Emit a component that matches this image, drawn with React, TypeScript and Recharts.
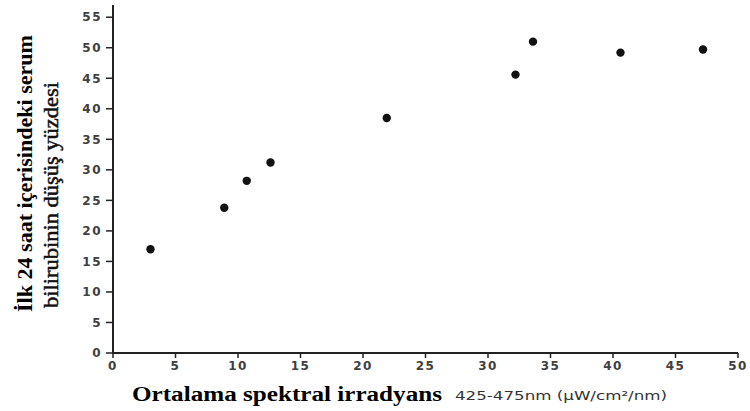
import { ScatterChart, Scatter, XAxis, YAxis } from "recharts";

// mean spectral irradiance (x) vs. % drop in serum bilirubin within 24h (y)
const irradiance = [3.0, 8.9, 10.7, 12.6, 21.9, 32.2, 33.6, 40.6, 47.2];
const bilirubinDrop = [17.0, 23.8, 28.2, 31.2, 38.5, 45.6, 51.0, 49.2, 49.7];

const xTicks = [0, 5, 10, 15, 20, 25, 30, 35, 40, 45, 50];
const yTicks = [0, 5, 10, 15, 20, 25, 30, 35, 40, 45, 50, 55];

const xTitle = "Ortalama spektral irradyans";
const xUnit = "425-475nm (µW/cm²/nm)";
const yTitle1 = "İlk 24 saat içerisindeki serum";
const yTitle2 = "bilirubinin düşüş yüzdesi";

const points = irradiance.map((x, i) => ({ x, y: bilirubinDrop[i] }));

const tickStyle = {
  fontFamily: "DejaVu Sans",
  fontSize: 12,
  fontWeight: "bold",
  fill: "#404040",
  letterSpacing: 1.5,
};

function XTitle(props: any) {
  const vb = props.viewBox || { x: 113, y: 353 };
  const base = vb.y + 48;
  return (
    <g>
      <text
        x={vb.x + 19}
        y={base}
        fontFamily="Liberation Serif"
        fontWeight="bold"
        fontSize={20}
        fill="#000"
        textLength={310}
        lengthAdjust="spacingAndGlyphs"
      >
        {xTitle}
      </text>
      <text
        x={vb.x + 342}
        y={base - 1}
        fontFamily="DejaVu Sans"
        fontSize={12}
        fill="#333"
        textLength={212}
        lengthAdjust="spacingAndGlyphs"
      >
        {xUnit}
      </text>
    </g>
  );
}

function YTitle(props: any) {
  const vb = props.viewBox || { x: 0, y: 5, height: 348 };
  const bottom = vb.y + vb.height;
  const x1 = vb.x + 32;
  const y1 = bottom - 41;
  const x2 = vb.x + 58;
  const y2 = bottom - 45;
  return (
    <g>
      <text
        x={x1}
        y={y1}
        transform={`rotate(-90 ${x1} ${y1})`}
        fontFamily="Liberation Serif"
        fontWeight="bold"
        fontSize={22}
        fill="#000"
        textLength={277}
        lengthAdjust="spacingAndGlyphs"
      >
        {yTitle1}
      </text>
      <text
        x={x2}
        y={y2}
        transform={`rotate(-90 ${x2} ${y2})`}
        fontFamily="Liberation Serif"
        fontSize={22}
        fill="#111"
        stroke="#111"
        strokeWidth={0.5}
        textLength={226}
        lengthAdjust="spacingAndGlyphs"
      >
        {yTitle2}
      </text>
    </g>
  );
}

function Dot(props: any) {
  return <circle cx={props.cx} cy={props.cy} r={4.2} fill="#111" />;
}

export default function App() {
  return (
    <div style={{ width: 750, height: 411, background: "#fff" }}>
      <style>{"body{margin:0}"}</style>
      <ScatterChart
        width={750}
        height={411}
        margin={{ top: 5, right: 12, bottom: 0, left: 0 }}
      >
        <XAxis
          type="number"
          dataKey="x"
          domain={[0, 50]}
          ticks={xTicks}
          interval={0}
          height={58}
          tickSize={5}
          tickMargin={3}
          tick={tickStyle}
          axisLine={{ stroke: "#222", strokeWidth: 2 }}
          tickLine={{ stroke: "#222", strokeWidth: 1.5 }}
          label={XTitle}
        />
        <YAxis
          type="number"
          dataKey="y"
          domain={[0, 57]}
          ticks={yTicks}
          interval={0}
          width={113}
          tickSize={7}
          tickMargin={4}
          tick={tickStyle}
          axisLine={{ stroke: "#222", strokeWidth: 2 }}
          tickLine={{ stroke: "#222", strokeWidth: 1.5 }}
          label={YTitle}
        />
        <Scatter data={points} shape={Dot} isAnimationActive={false} />
      </ScatterChart>
    </div>
  );
}
